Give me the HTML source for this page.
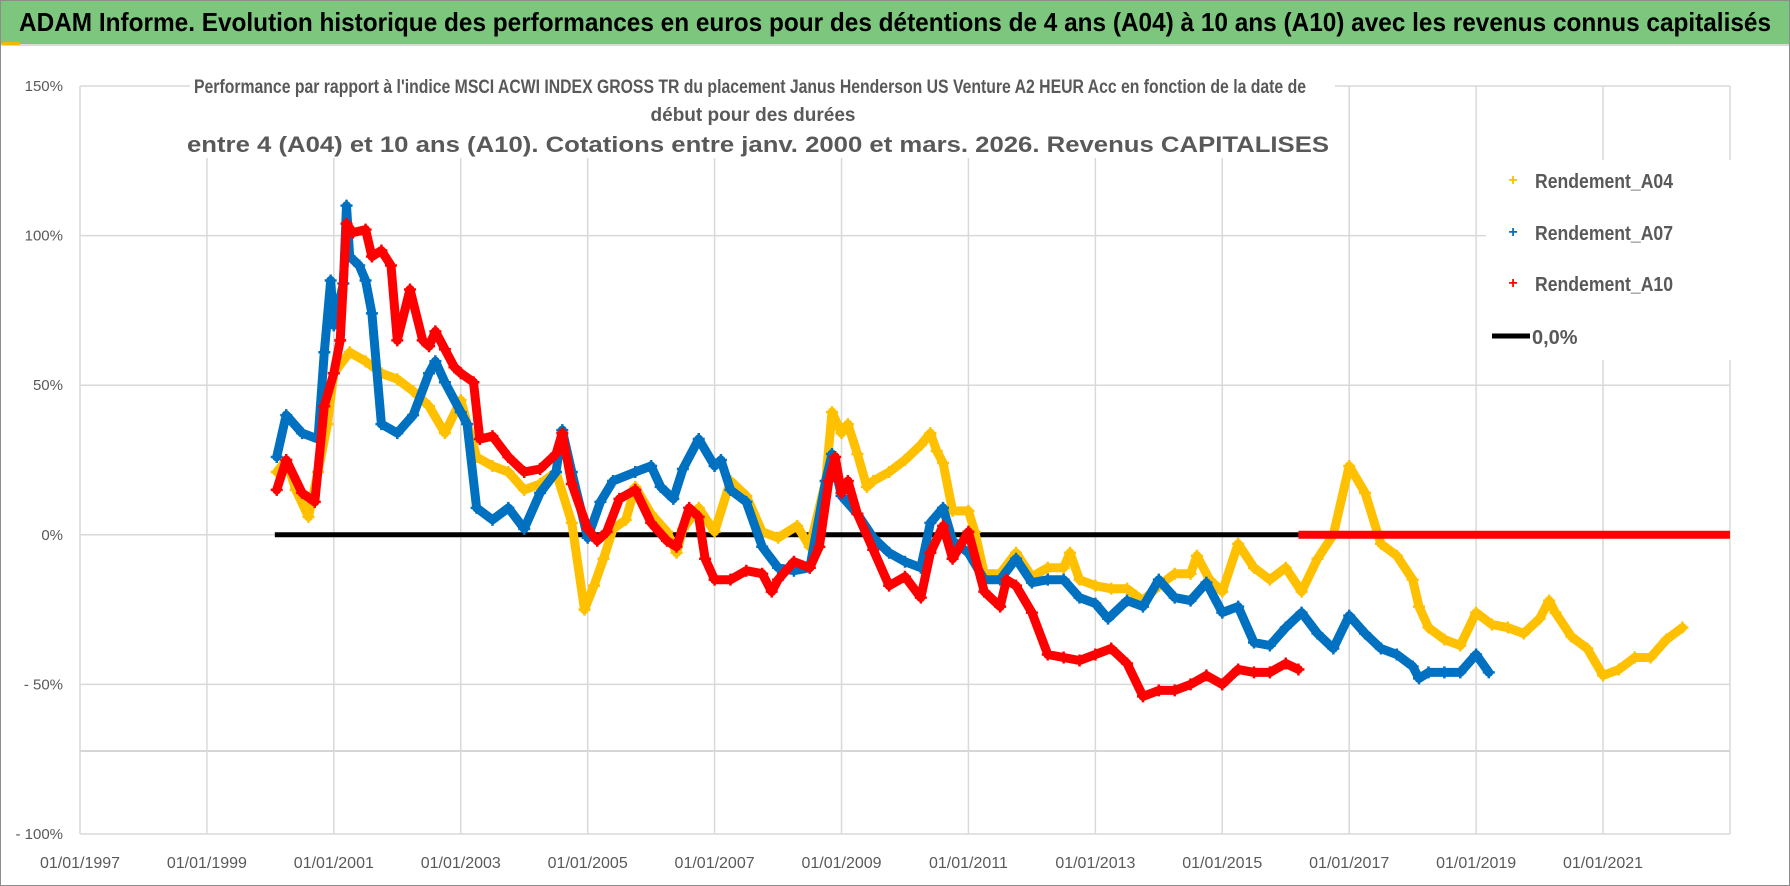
<!DOCTYPE html>
<html><head><meta charset="utf-8">
<style>
html,body{margin:0;padding:0;background:#fff;}
svg{display:block;font-family:"Liberation Sans",sans-serif;}
</style></head>
<body>
<svg id="chart" width="1790" height="886" viewBox="0 0 1790 886" xmlns="http://www.w3.org/2000/svg">
  <rect x="0.5" y="0.5" width="1789" height="885" fill="#fff" stroke="#8c8c8c"/>
  <rect x="1" y="1" width="1788" height="43" fill="#7DC67E"/>
  <text x="895" y="31" text-anchor="middle" font-size="26" font-weight="bold" fill="#000" textLength="1752" lengthAdjust="spacingAndGlyphs">ADAM Informe. Evolution historique des performances en euros pour des détentions de 4 ans (A04) à 10 ans (A10) avec les revenus connus capitalisés</text>
  <line x1="1" y1="45" x2="1789" y2="45" stroke="#d9d9d9" stroke-width="2"/>
  <rect x="2" y="42" width="18" height="3" fill="#F5B800"/>
  <g id="grid"></g>
  <g id="yaxis"></g>
  <g id="xaxis"></g>
  <g id="titlebox">
    <rect x="190" y="74" width="1145" height="84" fill="#fff"/>
    <text x="750" y="93" text-anchor="middle" font-size="19" font-weight="bold" fill="#595959" textLength="1112" lengthAdjust="spacingAndGlyphs">Performance par rapport à l'indice MSCI ACWI INDEX GROSS TR  du placement Janus Henderson US Venture A2 HEUR Acc en fonction de la date de</text>
    <text x="753" y="121" text-anchor="middle" font-size="19" font-weight="bold" fill="#595959" textLength="205" lengthAdjust="spacingAndGlyphs">début pour des durées</text>
    <text x="758" y="152" text-anchor="middle" font-size="22" font-weight="bold" fill="#595959" textLength="1142" lengthAdjust="spacingAndGlyphs">entre 4 (A04) et 10 ans (A10).  Cotations entre janv. 2000 et mars. 2026. Revenus CAPITALISES</text>
  </g>
  <g id="series"></g>
  <g id="legend">
    <rect x="1486" y="160" width="246" height="200" fill="#fff"/>
    <g>
      <text x="1513" y="185" text-anchor="middle" font-size="16" fill="#FFC000" font-weight="bold">+</text>
      <text x="1535" y="188" font-size="20" font-weight="bold" fill="#595959" textLength="138" lengthAdjust="spacingAndGlyphs">Rendement_A04</text>
    </g>
    <g>
      <text x="1513" y="237" text-anchor="middle" font-size="16" fill="#0070C0" font-weight="bold">+</text>
      <text x="1535" y="240" font-size="20" font-weight="bold" fill="#595959" textLength="138" lengthAdjust="spacingAndGlyphs">Rendement_A07</text>
    </g>
    <g>
      <text x="1513" y="288" text-anchor="middle" font-size="16" fill="#FF0000" font-weight="bold">+</text>
      <text x="1535" y="291" font-size="20" font-weight="bold" fill="#595959" textLength="138" lengthAdjust="spacingAndGlyphs">Rendement_A10</text>
    </g>
    <g>
      <line x1="1492" y1="336" x2="1530" y2="336" stroke="#000" stroke-width="5"/>
      <text x="1532" y="344" font-size="20" font-weight="bold" fill="#595959">0,0%</text>
    </g>
  </g>
</svg>
<script>
// ---- data ----
const yTicks = [150, 100, 50, 0, -50, -100];
const yTickLabels = ["150%", "100%", "50%", "0%", "- 50%", "- 100%"];
const xTicks = [1997, 1999, 2001, 2003, 2005, 2007, 2009, 2011, 2013, 2015, 2017, 2019, 2021];
const xTickLabels = ["01/01/1997","01/01/1999","01/01/2001","01/01/2003","01/01/2005","01/01/2007","01/01/2009","01/01/2011","01/01/2013","01/01/2015","01/01/2017","01/01/2019","01/01/2021"];

const a04Years = [2000.1,2000.25,2000.4,2000.6,2000.75,2000.9,2001.0,2001.25,2001.5,2001.75,2002.0,2002.25,2002.5,2002.75,2003.0,2003.25,2003.5,2003.75,2004.0,2004.25,2004.5,2004.75,2004.95,2005.1,2005.25,2005.4,2005.6,2005.75,2006.0,2006.25,2006.4,2006.5,2006.75,2007.0,2007.25,2007.5,2007.75,2008.0,2008.3,2008.5,2008.75,2008.85,2009.0,2009.1,2009.25,2009.4,2009.5,2009.75,2010.0,2010.25,2010.4,2010.5,2010.6,2010.75,2011.0,2011.1,2011.25,2011.5,2011.75,2012.0,2012.25,2012.5,2012.6,2012.75,2013.0,2013.25,2013.5,2013.75,2014.0,2014.25,2014.5,2014.6,2014.8,2015.0,2015.25,2015.5,2015.75,2016.0,2016.25,2016.5,2016.75,2017.0,2017.25,2017.5,2017.75,2018.0,2018.1,2018.25,2018.5,2018.75,2019.0,2019.25,2019.5,2019.75,2020.0,2020.15,2020.25,2020.5,2020.75,2021.0,2021.25,2021.5,2021.75,2022.0,2022.25];
const a04Values = [21,25,15,6,21,37,54,61,58,54,52,48,43,34,45,26,23,21,15,17,21,4,-25,-17,-8,2,5,16,7,1,-6,2,9,1,18,13,1,-1,3,-4,18,41,34,37,27,16,18,21,25,30,34,28,24,8,8,1,-13,-13,-6,-14,-11,-11,-6,-15,-17,-18,-18,-22,-17,-13,-13,-7,-15,-19,-3,-11,-15,-11,-19,-8,0,23,14,-3,-7,-15,-24,-31,-35,-37,-26,-30,-31,-33,-28,-22,-26,-34,-38,-47,-45,-41,-41,-35,-31];

const a07Years = [2000.1,2000.25,2000.5,2000.75,2000.85,2000.95,2001.0,2001.15,2001.2,2001.25,2001.4,2001.5,2001.6,2001.75,2002.0,2002.25,2002.5,2002.6,2002.75,2003.0,2003.1,2003.25,2003.5,2003.75,2004.0,2004.25,2004.5,2004.6,2004.75,2005.0,2005.2,2005.4,2005.75,2006.0,2006.15,2006.35,2006.5,2006.75,2007.0,2007.1,2007.25,2007.5,2007.75,2008.0,2008.25,2008.5,2008.75,2008.85,2009.0,2009.25,2009.5,2009.75,2010.0,2010.25,2010.4,2010.6,2010.75,2011.0,2011.25,2011.5,2011.75,2012.0,2012.25,2012.5,2012.75,2013.0,2013.2,2013.5,2013.75,2014.0,2014.25,2014.5,2014.75,2015.0,2015.25,2015.5,2015.75,2016.0,2016.25,2016.5,2016.75,2017.0,2017.25,2017.5,2017.75,2018.0,2018.1,2018.25,2018.5,2018.75,2019.0,2019.2];
const a07Values = [26,40,34,32,61,85,70,84,110,93,90,85,74,37,34,40,54,58,51,41,37,9,5,9,2,14,21,35,21,-1,11,18,21,23,16,12,22,32,23,25,15,11,-4,-11,-12,-11,18,27,13,7,-1,-6,-9,-11,4,9,-2,-6,-15,-15,-8,-16,-15,-15,-21,-23,-28,-22,-24,-15,-21,-22,-16,-26,-24,-36,-37,-31,-26,-33,-38,-27,-33,-38,-40,-44,-48,-46,-46,-46,-40,-46];

const a10Years = [2000.1,2000.25,2000.5,2000.7,2000.85,2001.0,2001.1,2001.2,2001.3,2001.5,2001.6,2001.75,2001.9,2002.0,2002.2,2002.4,2002.5,2002.6,2002.75,2002.9,2003.0,2003.2,2003.3,2003.5,2003.75,2004.0,2004.25,2004.5,2004.6,2004.75,2005.0,2005.15,2005.3,2005.5,2005.75,2006.0,2006.25,2006.4,2006.6,2006.75,2006.85,2007.0,2007.25,2007.5,2007.75,2007.9,2008.0,2008.25,2008.5,2008.65,2008.8,2008.9,2009.0,2009.1,2009.25,2009.5,2009.75,2010.0,2010.25,2010.4,2010.6,2010.75,2011.0,2011.25,2011.5,2011.6,2011.75,2012.0,2012.25,2012.5,2012.75,2013.0,2013.25,2013.5,2013.75,2014.0,2014.25,2014.5,2014.75,2015.0,2015.25,2015.5,2015.75,2016.0,2016.2];
const a10Values = [15,25,14,11,43,54,65,104,101,102,93,95,90,65,82,65,63,68,62,56,54,51,32,33,26,21,22,27,34,17,2,-2,1,12,15,4,-2,-4,9,6,-8,-15,-15,-12,-13,-19,-15,-9,-11,-4,18,26,14,18,7,-5,-17,-14,-21,-6,3,-8,1,-19,-24,-15,-17,-26,-40,-41,-42,-40,-38,-43,-54,-52,-52,-50,-47,-50,-45,-46,-46,-43,-45];

const zeroLineStart = 2000.07, zeroLineEnd = 2016.2, zeroTailEnd = 2023.0;

// ---- axes ----
const X0 = 80, PXYR = 63.46, XMIN = 1997, XMAX = 2023;
const Y0 = 534.8, PXPCT = 2.992;
function xs(yr){ return X0 + (yr - XMIN) * PXYR; }
function ys(v){ return Y0 - v * PXPCT; }

const NS = "http://www.w3.org/2000/svg";
function mk(tag, attrs, parent){
  const e = document.createElementNS(NS, tag);
  for (const k in attrs) e.setAttribute(k, attrs[k]);
  parent.appendChild(e);
  return e;
}
const grid = document.getElementById('grid');
const yaxis = document.getElementById('yaxis');
const xaxis = document.getElementById('xaxis');
const series = document.getElementById('series');

yTicks.forEach((v, i) => {
  const l = mk('line', {x1: xs(XMIN), x2: xs(XMAX), y1: ys(v), y2: ys(v), stroke: '#d9d9d9', 'stroke-width': 1.5}, grid);
  
  
  const t = mk('text', {x: 63, y: ys(v) + 5, 'text-anchor': 'end', 'font-size': 15, fill: '#595959'}, yaxis);
  t.textContent = yTickLabels[i];
  
  
});
const extra = mk('line', {x1: xs(XMIN), x2: xs(XMAX), y1: 751, y2: 751, stroke: '#c8c8c8', 'stroke-width': 1.5}, grid);



xTicks.concat([2023]).forEach((yr) => {
  const l = mk('line', {x1: xs(yr), x2: xs(yr), y1: ys(150), y2: ys(-100), stroke: '#d9d9d9', 'stroke-width': 1.5}, grid);
  
  
});
xTicks.forEach((yr, i) => {
  const t = mk('text', {x: xs(yr), y: 868, 'text-anchor': 'middle', 'font-size': 16, fill: '#595959'}, xaxis);
  t.textContent = xTickLabels[i];
  
  
});

const zl = mk('line', {x1: xs(zeroLineStart), x2: xs(zeroLineEnd), y1: ys(0), y2: ys(0), stroke: '#000', 'stroke-width': 5}, series);



function drawSeries(years, vals, color, name){
  const g = mk('g', {}, series);
  
  
  const pts = years.map((yr, i) => xs(yr).toFixed(1) + ',' + ys(vals[i]).toFixed(1)).join(' ');
  const pl = mk('polyline', {points: pts, fill: 'none', stroke: color, 'stroke-width': 9, 'stroke-linejoin': 'round', 'stroke-linecap': 'round'}, g);
  
  
  years.forEach((yr, i) => {
    const cx = xs(yr), cy = ys(vals[i]);
    const p = mk('path', {d: `M${cx-6},${cy}H${cx+6}M${cx},${cy-6}V${cy+6}`, stroke: color, 'stroke-width': 2.5}, g);
    
    
  });
}
drawSeries(a04Years, a04Values, '#FFC000', 'series-a04');
drawSeries(a07Years, a07Values, '#0070C0', 'series-a07');
drawSeries(a10Years, a10Values, '#FF0000', 'series-a10');

const tail = mk('line', {x1: xs(zeroLineEnd), x2: xs(zeroTailEnd), y1: ys(0), y2: ys(0), stroke: '#FF0000', 'stroke-width': 8}, series);


</script>
</body></html>
